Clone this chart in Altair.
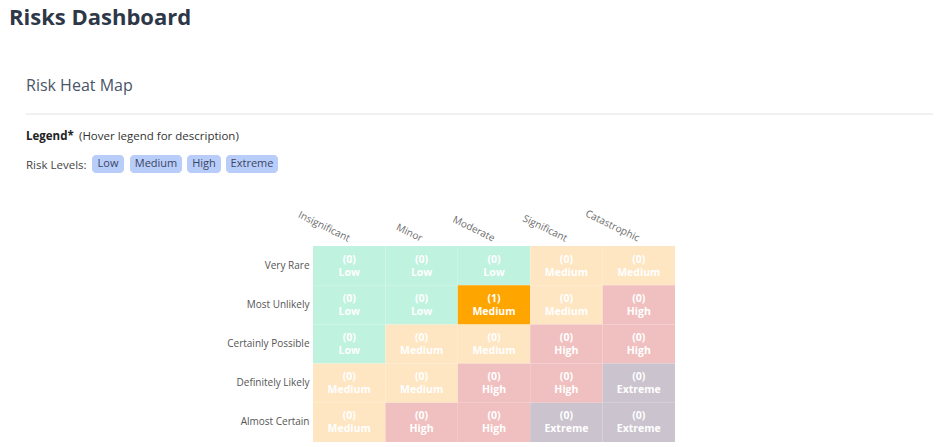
import altair as alt
import pandas as pd

impacts = ["Insignificant", "Minor", "Moderate", "Significant", "Catastrophic"]
likelihoods = ["Very Rare", "Most Unlikely", "Certainly Possible", "Definitely Likely", "Almost Certain"]
levels = [
    ["Low", "Low", "Low", "Medium", "Medium"],
    ["Low", "Low", "Medium", "Medium", "High"],
    ["Low", "Medium", "Medium", "High", "High"],
    ["Medium", "Medium", "High", "High", "Extreme"],
    ["Medium", "High", "High", "Extreme", "Extreme"],
]
counts = [
    [0, 0, 0, 0, 0],
    [0, 0, 1, 0, 0],
    [0, 0, 0, 0, 0],
    [0, 0, 0, 0, 0],
    [0, 0, 0, 0, 0],
]
level_names = ["Low", "Medium", "High", "Extreme"]
level_colors = ["#c0f2e0", "#fee6c3", "#f0c0c0", "#cbc3cd"]
active_color = "#ffa500"

rows = []
for i, lk in enumerate(likelihoods):
    for j, im in enumerate(impacts):
        rows.append({"impact": im, "likelihood": lk, "level": levels[i][j],
                     "count": counts[i][j], "count_label": f"({counts[i][j]})"})
df = pd.DataFrame(rows)

FONT = "Open Sans"

xenc = alt.X("impact:N", sort=impacts, title=None,
             scale=alt.Scale(paddingInner=0, paddingOuter=0),
             axis=alt.Axis(orient="top", labelAngle=26, labelAlign="right",
                           labelBaseline="bottom", labelPadding=3, labelOffset=-2,
                           domain=False, ticks=False, labelColor="#6b6b6b",
                           labelFontSize=10, labelFont=FONT))
yenc = alt.Y("likelihood:N", sort=likelihoods, title=None,
             scale=alt.Scale(paddingInner=0, paddingOuter=0),
             axis=alt.Axis(domain=False, ticks=False, labelPadding=4,
                           labelColor="#555", labelFontSize=10, labelFont=FONT))

base = alt.Chart(df)
heat = base.mark_rect().encode(
    x=xenc, y=yenc,
    color=alt.condition(alt.datum.count > 0, alt.value(active_color),
                        alt.Color("level:N", scale=alt.Scale(domain=level_names, range=level_colors),
                                  legend=None)),
)
txt1 = base.mark_text(font=FONT, fontWeight="bold", fontSize=10.5, color="white",
                      baseline="middle", dy=-6).encode(x=xenc, y=yenc, text="count_label:N")
txt2 = base.mark_text(font=FONT, fontWeight="bold", fontSize=10.5, color="white",
                      baseline="middle", dy=7).encode(x=xenc, y=yenc, text="level:N")

one = alt.Data(values=[{"a": 1}])

def label(text, x, y, size, color, weight="normal", align="left"):
    return alt.Chart(one).mark_text(text=text, font=FONT, fontSize=size, color=color,
                                    fontWeight=weight, align=align, baseline="alphabetic").encode(
        x=alt.value(x), y=alt.value(y))

# origin of plot area is at page (313, 246)
title = label("Risks Dashboard", -304, -221, 22, "#2d3748", "bold")
sub = label("Risk Heat Map", -287, -155, 16, "#4a5568")
line = alt.Chart(one).mark_rule(color="#e3e3e3", strokeWidth=1).encode(
    x=alt.value(-287), x2=alt.value(620), y=alt.value(-132))
leg1 = label("Legend*", -287, -106, 11.5, "#222", "bold")
leg2 = label("(Hover legend for description)", -234, -106, 11.5, "#333")
risk = label("Risk Levels:", -287, -77, 11.5, "#444")

badge_x = [(-221, -189), (-183, -131), (-126, -92), (-87, -35)]
badges = []
for name, (x1, x2) in zip(level_names, badge_x):
    badges.append(alt.Chart(one).mark_rect(color="#b9cdfb", cornerRadius=4).encode(
        x=alt.value(x1), x2=alt.value(x2), y=alt.value(-91), y2=alt.value(-73)))
    badges.append(alt.Chart(one).mark_text(text=name, font=FONT, fontSize=11, color="#3a4660",
                                           align="center", baseline="middle").encode(
        x=alt.value((x1 + x2) / 2), y=alt.value(-82)))

chart = alt.layer(heat, txt1, txt2, title, sub, line, leg1, leg2, risk, *badges).properties(
    width=362, height=196,
    autosize=alt.AutoSizeParams(type="none"),
    padding={"left": 305, "top": 238, "right": 258, "bottom": 0},
).configure_view(stroke=None)

chart.save("out.html", embed_options={"renderer": "svg", "actions": False})
